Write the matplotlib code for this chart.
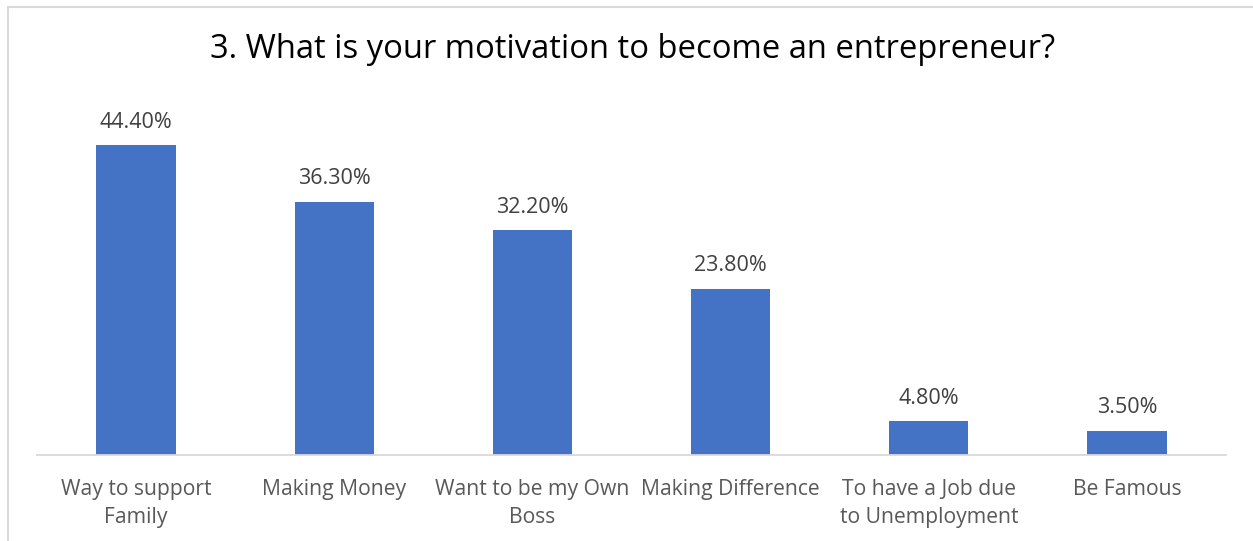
import matplotlib
matplotlib.use('Agg')
import matplotlib.pyplot as plt
from matplotlib.patches import Rectangle

categories = ['Way to support\nFamily', 'Making Money', 'Want to be my Own\nBoss',
              'Making Difference', 'To have a Job due\nto Unemployment', 'Be Famous']
values = [44.4, 36.3, 32.2, 23.8, 4.8, 3.5]
value_labels = ['44.40%', '36.30%', '32.20%', '23.80%', '4.80%', '3.50%']

plt.rcParams['font.family'] = ['Open Sans', 'DejaVu Sans']

W, H = 1253, 541
fig = plt.figure(figsize=(W / 100, H / 100), dpi=100)

# chart frame, cut off at right and bottom
fig.patches.append(Rectangle((8 / W, -0.1), 1.2, 1 - 7 / H + 0.1, transform=fig.transFigure,
                             fill=False, edgecolor='#d9d9d9', linewidth=1.5))

ax = fig.add_axes([37 / W, 1 - 455 / H, (1226 - 37) / W, (455 - 106) / H])
x = range(len(categories))
ax.bar(x, values, width=0.4, color='#4472c4')
ax.set_xlim(-0.5, len(categories) - 0.5)
ax.set_ylim(0, 50)

for xi, v, lab in zip(x, values, value_labels):
    ax.annotate(lab, (xi, v), xytext=(0, 9), textcoords='offset points',
                ha='center', va='bottom', fontsize=15.5, color='#404040')

ax.set_xticks(list(x))
ax.set_xticklabels(categories, fontsize=15.2, color='#595959', linespacing=1.45)
ax.tick_params(axis='x', length=0, pad=17)
ax.set_yticks([])
for s in ['top', 'right', 'left']:
    ax.spines[s].set_visible(False)
ax.spines['bottom'].set_color('#d9d9d9')
ax.spines['bottom'].set_linewidth(1.3)

fig.text(0.505, 1 - 49 / H, '3. What is your motivation to become an entrepreneur?',
         ha='center', va='center', fontsize=23.6, color='black')

fig.savefig('out.png', dpi=100)
